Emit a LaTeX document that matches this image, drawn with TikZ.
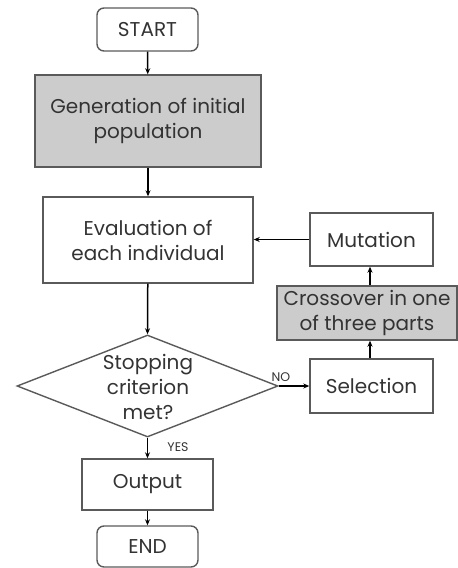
\documentclass[tikz,border=0pt]{standalone}
\usepackage{fontspec}
\setmainfont{Poppins}
\usetikzlibrary{shapes.geometric,arrows.meta}
\definecolor{bordc}{HTML}{5A5A5A}
\definecolor{fillc}{HTML}{CCCCCC}
\definecolor{txtc}{HTML}{333333}
\tikzset{
  box/.style={draw=bordc,line width=1.4pt,text=txtc,align=center,inner sep=2pt,font=\fontsize{20}{25}\selectfont},
  term/.style={box,rounded corners=7pt},
  grey/.style={box,fill=fillc},
  arr/.style={line width=1.5pt,-{Stealth[length=6pt,width=5pt]}},
  lab/.style={text=txtc,font=\fontsize{12.5}{14}\selectfont,inner sep=0pt},
}
\begin{document}
\begin{tikzpicture}[x=1pt,y=-1pt]
\useasboundingbox (0,0) rectangle (458,568);
\node[term,minimum width=101pt,minimum height=43pt] (start) at (147.5,29.5) {START};
\node[grey,minimum width=226pt,minimum height=92pt] (gen) at (148,121) {Generation of initial\\population};
\node[box,minimum width=210pt,minimum height=86pt] (eval) at (148,240) {Evaluation of\\each individual};
\node[diamond,draw=bordc,line width=1.4pt,minimum width=261pt,minimum height=102pt,inner sep=0pt] (dec) at (147.5,386) {};
\node[text=txtc,align=center,font=\fontsize{20}{25}\selectfont] (dectext) at (148,387) {Stopping\\criterion\\met?};
\node[box,minimum width=123pt,minimum height=53pt] (mut) at (371.5,239.5) {Mutation};
\node[grey,minimum width=180pt,minimum height=54pt] (cross) at (367,313) {Crossover in one\\of three parts};
\node[box,minimum width=123pt,minimum height=54pt] (sel) at (371.5,386) {Selection};
\node[box,minimum width=131pt,minimum height=51pt] (out) at (147.5,484.5) {Output};
\node[term,minimum width=101pt,minimum height=41pt] (end) at (147.5,546.5) {END};
\draw[arr] (start) -- (gen);
\draw[arr] (gen) -- (eval);
\draw[arr] (eval) -- (dec.north);
\draw[arr] (dec.south) -- (out);
\draw[arr] (out) -- (end);
\draw[arr] (dec.east) -- (sel.west);
\draw[arr] (sel.north -| 370,0) -- (cross.south -| 370,0);
\draw[arr] (cross.north -| 370,0) -- (mut.south -| 370,0);
\draw[arr] (mut.west) -- (eval.east |- mut.west);
\node[lab] (no) at (281,377) {NO};
\node[lab] (yes) at (178,447) {YES};
\end{tikzpicture}
\end{document}
